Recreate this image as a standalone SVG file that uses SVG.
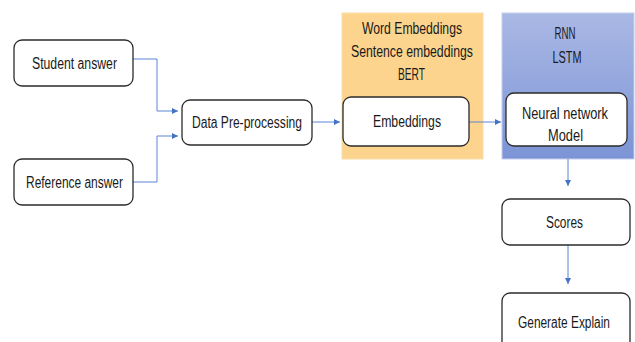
<svg xmlns="http://www.w3.org/2000/svg" width="635" height="342" viewBox="0 0 635 342">
  <defs>
    <linearGradient id="modelFill" x1="0" y1="0" x2="0" y2="1">
      <stop offset="0" stop-color="#AAB8E4"/>
      <stop offset="1" stop-color="#7C94D6"/>
    </linearGradient>
    <marker id="arrow" viewBox="0 0 6 6" refX="6" refY="3" markerWidth="6" markerHeight="6" markerUnits="userSpaceOnUse" orient="auto">
      <path d="M0,0 L6,3 L0,6 z" fill="#4472C4"/>
    </marker>
    <style>
      .box { fill: #FFFFFF; stroke: #2B2B2B; stroke-width: 1.3; }
      .label { font-family: "Liberation Sans", "Noto Sans", sans-serif; font-size: 16px; fill: #1A1A1A; text-anchor: middle; }
      .wire { fill: none; stroke: #5B86D6; stroke-width: 1; marker-end: url(#arrow); }
    </style>
  </defs>

  <rect width="635" height="342" fill="#FFFFFF"/>

  <!-- background panels -->
  <g id="embedding-panel">
    <rect x="342" y="13" width="141" height="146" fill="#FCD48E" stroke="#F8DDA8" stroke-width="1"/>
    <text class="label" x="412" y="34" textLength="100" lengthAdjust="spacingAndGlyphs">Word Embeddings</text>
    <text class="label" x="412" y="57" textLength="122" lengthAdjust="spacingAndGlyphs">Sentence embeddings</text>
    <text class="label" x="411.5" y="80" textLength="27" lengthAdjust="spacingAndGlyphs">BERT</text>
  </g>
  <g id="model-panel">
    <rect x="502" y="13" width="132" height="146" fill="url(#modelFill)" stroke="#C3CDEE" stroke-width="1"/>
    <text class="label" x="565" y="39" textLength="21" lengthAdjust="spacingAndGlyphs">RNN</text>
    <text class="label" x="567" y="63" textLength="29" lengthAdjust="spacingAndGlyphs">LSTM</text>
  </g>

  <!-- connectors -->
  <g id="connectors">
    <path class="wire" d="M133,59 H157 V111 H178"/>
    <path class="wire" d="M133,182 H157 V136 H178"/>
    <path class="wire" d="M312,122 H340"/>
    <path class="wire" d="M469,122 H501"/>
    <path class="wire" d="M568,159 V186"/>
    <path class="wire" d="M568,245 V284"/>
  </g>

  <!-- nodes -->
  <g id="student-answer">
    <rect class="box" x="14" y="40" width="119" height="46" rx="8"/>
    <text class="label" x="74.5" y="69" textLength="85" lengthAdjust="spacingAndGlyphs">Student answer</text>
  </g>
  <g id="reference-answer">
    <rect class="box" x="14" y="159" width="119" height="46" rx="8"/>
    <text class="label" x="74.5" y="188" textLength="97" lengthAdjust="spacingAndGlyphs">Reference answer</text>
  </g>
  <g id="data-preprocessing">
    <rect class="box" x="182" y="100" width="130" height="45" rx="8"/>
    <text class="label" x="247" y="128" textLength="110" lengthAdjust="spacingAndGlyphs">Data Pre-processing</text>
  </g>
  <g id="embeddings">
    <rect class="box" x="343" y="97" width="126" height="49" rx="8"/>
    <text class="label" x="407" y="127" textLength="68" lengthAdjust="spacingAndGlyphs">Embeddings</text>
  </g>
  <g id="neural-network-model">
    <rect class="box" x="506" y="93" width="121" height="53" rx="8"/>
    <text class="label" x="565" y="119" textLength="86" lengthAdjust="spacingAndGlyphs">Neural network</text>
    <text class="label" x="565.5" y="141" textLength="35" lengthAdjust="spacingAndGlyphs">Model</text>
  </g>
  <g id="scores">
    <rect class="box" x="502" y="199" width="128" height="46" rx="8"/>
    <text class="label" x="564.5" y="228" textLength="37" lengthAdjust="spacingAndGlyphs">Scores</text>
  </g>
  <g id="generate-explain">
    <rect class="box" x="502" y="293" width="128" height="60" rx="8"/>
    <text class="label" x="564" y="328" textLength="92" lengthAdjust="spacingAndGlyphs">Generate Explain</text>
  </g>
</svg>
